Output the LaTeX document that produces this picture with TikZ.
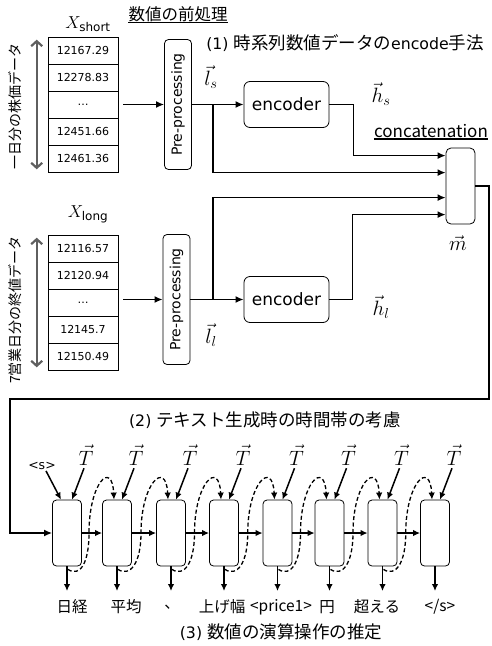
\documentclass[tikz,border=0pt]{standalone}
\usepackage{fontspec}
\setmainfont{DejaVu Sans}
\newfontfamily\jpfont{Noto Sans CJK JP}
\newfontfamily\latfont{DejaVu Sans}[Scale=0.9]
\usetikzlibrary{arrows.meta,positioning,calc}
\definecolor{spangray}{RGB}{95,95,95}
\tikzset{
  valcell/.style={draw,line width=0.6pt,minimum width=70pt,minimum height=27pt,inner sep=0pt,
    font=\fontsize{11}{12}\selectfont},
  prebox/.style={draw,rounded corners=4pt,line width=0.8pt,minimum width=130pt,minimum height=27pt,
    inner sep=0pt,rotate=90,font=\fontsize{14}{16}\selectfont},
  encbox/.style={draw,rounded corners=6pt,line width=0.8pt,minimum width=85pt,minimum height=46pt,
    inner sep=0pt,font=\fontsize{17}{19}\selectfont},
  catbox/.style={draw,rounded corners=5pt,line width=0.8pt,minimum width=29pt,minimum height=76pt,inner sep=0pt},
  decbox/.style={draw,rounded corners=4pt,line width=0.8pt,minimum width=29pt,minimum height=66pt,inner sep=0pt},
  jtitle/.style={font=\jpfont\fontsize{17.5}{19}\selectfont,inner sep=1pt},
  jword/.style={font=\jpfont\fontsize{15.5}{18}\selectfont,inner sep=1pt},
  vlabel/.style={font=\jpfont\fontsize{14}{16}\selectfont,inner sep=1pt,rotate=90},
  mathlbl/.style={font=\fontsize{20.74}{24}\selectfont,inner sep=1pt},
  xlbl/.style={font=\fontsize{17.28}{20}\selectfont,inner sep=1pt},
  uline/.style={line width=1.2pt},
  flow/.style={-{Latex[length=8pt,width=7pt]},line width=1.5pt},
  decflow/.style={-{Latex[length=7pt,width=6.5pt]},line width=1.5pt},
  fback/.style={-{Latex[length=7pt,width=6.5pt]},dash pattern=on 4pt off 2.5pt,line width=1.3pt},
  spanarrow/.style={{Straight Barb[length=5pt,width=11pt]}-{Straight Barb[length=5pt,width=11pt]},
    line width=2.2pt,draw=spangray}
}
\begin{document}
\begin{tikzpicture}[x=1pt,y=-1pt]
  \useasboundingbox (0,0) rectangle (491,646);

  % short term series
  \node[jtitle,font=\jpfont\fontsize{16.5}{18}\selectfont] (pretitle) at (178,14) {数値の前処理};
  \draw[uline] ($(pretitle.south west)+(1,0)$) -- ($(pretitle.south east)+(-1,0)$);
  \node[xlbl] (xs) at (88,24) {$X_{\mathrm{short}}$};
  \foreach \v [count=\r] in {12167.29,12278.83,\textellipsis,12451.66,12461.36}
    \node[valcell] (s\r) at (83,23.5+27*\r) {\v};
  \draw[spanarrow] ($(s1.north west)+(-11,3)$) -- ($(s5.south west)+(-11,-3)$);
  \node[vlabel] (sdesc) at (15,106) {一日分の株価データ};
  \node[prebox] (pre1) at (178,104.5) {Pre-processing};
  \node[encbox] (enc1) at (286.5,104.5) {encoder};
  \coordinate (ls) at (213,104.5);
  \node[mathlbl] (lslbl) at (211,77) {$\vec{l}_s$};
  \node[mathlbl] (hslbl) at (381,94) {$\vec{h}_s$};
  \node[jtitle] (part1) at (345,43) {{\latfont (1) }時系列数値データの{\latfont encode}手法};

  % concatenation
  \node[jtitle,font=\jpfont\fontsize{17}{19}\selectfont] (cattitle) at (431,131) {concatenation};
  \draw[uline] ($(cattitle.south west)+(1,0)$) -- ($(cattitle.south east)+(-1,0)$);
  \node[catbox] (cat) at (460.5,186) {};
  \node[mathlbl] (mlbl) at (458,243) {$\vec{m}$};

  % long term series
  \node[xlbl] (xl) at (88,214) {$X_{\mathrm{long}}$};
  \foreach \v [count=\r] in {12116.57,12120.94,\textellipsis,12145.7,12150.49}
    \node[valcell] (l\r) at (83,221.5+27*\r) {\v};
  \draw[spanarrow] ($(l1.north west)+(-11,3)$) -- ($(l5.south west)+(-11,-3)$);
  \node[vlabel] (ldesc) at (15,310) {7営業日分の終値データ};
  \node[prebox] (pre2) at (176.5,299.5) {Pre-processing};
  \node[encbox] (enc2) at (286.5,299.5) {encoder};
  \coordinate (ll) at (213,299.5);
  \node[mathlbl] (lllbl) at (211,335) {$\vec{l}_l$};
  \node[mathlbl] (hllbl) at (381,307) {$\vec{h}_l$};

  \draw[flow] ($(s3.east)+(5,0)$) -- (pre1.north |- s3.east);
  \draw[flow] (pre1.south) -- (enc1.west);
  \draw[flow] (enc1.east) -- ++(24,0) |- ($(cat.north west)+(0,8)$);
  \draw[flow] (ls) |- ($(cat.north west)+(0,25)$);
  \draw[flow] ($(l3.east)+(5,-3)$) -- (pre2.north |- enc2.west);
  \draw[flow] (pre2.south) -- (enc2.west);
  \draw[flow] (ll) |- ($(cat.north west)+(0,50)$);
  \draw[flow] (enc2.east) -- ++(23,0) |- ($(cat.north west)+(0,67)$);

  % text generation
  \node[jtitle] (part2) at (265,420) {{\latfont (2) }テキスト生成時の時間帯の考慮};
  \node[jtitle] (part3) at (281,632) {{\latfont (3) }数値の演算操作の推定};
  \foreach \cx [count=\i] in {67,117,171,224,277.5,329.5,382.5,435} {
    \node[decbox] (d\i) at (\cx,533) {};
    \node[mathlbl] (t\i) at (\cx+19,455) {$\vec{T}$};
    \draw[decflow] ($(t\i.south)+(-2,2)$) -- ($(d\i.north)+(5,0)$);
    \coordinate (o\i) at (\cx,591);
    \draw[decflow] (d\i.south) -- (o\i);
  }
  \node[font=\fontsize{12.5}{14}\selectfont,inner sep=1pt] (bos) at (42,466) {<s>};
  \draw[decflow] ($(bos.south)+(4,0)$) -- ($(d1.north)+(-6,0)$);
  \foreach \i/\j in {1/2,2/3,3/4,4/5,5/6,6/7,7/8} {
    \draw[decflow] (d\i.east) -- (d\j.west);
    \draw[fback] ($(d\i.south)+(1,3)$) .. controls +(12,8) and +(0,30) ..
      ($(d\i.east)!0.5!(d\j.west)+(-3,0)$) .. controls +(0,-50) and +(-2,-40) ..
      ($(d\j.north)+(-3,0)$);
  }
  \foreach \w/\wx [count=\i] in {日経/72,平均/126,、/172,上げ幅/222,{<price1>}/281,円/327,超える/377,{</s>}/440}
    \node[jword] (w\i) at (\wx,607) {\w};

  % loop back to decoder
  \coordinate (turn) at (489,399);
  \coordinate (back) at (10,399);
  \draw[flow] (cat.east) -- (cat.east -| turn) -- (turn) -- (back) |- (d1.west);
\end{tikzpicture}
\end{document}
